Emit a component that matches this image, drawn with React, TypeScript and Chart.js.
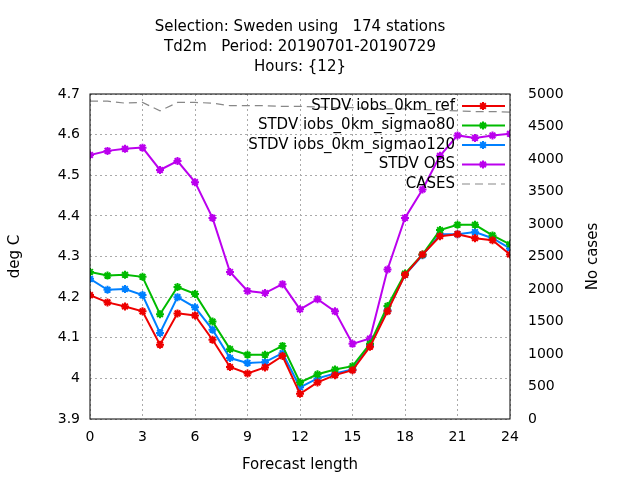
import React, { useEffect, useRef } from 'react';
import { Chart, registerables } from 'chart.js';

Chart.register(...registerables);

const hours = Array.from({ length: 25 }, (_, i) => i);
const titleLines = ['Selection: Sweden using   174 stations', 'Td2m   Period: 20190701-20190729', 'Hours: {12}'];

const refVals = [4.205, 4.187, 4.177, 4.165, 4.083, 4.16, 4.155, 4.095, 4.028, 4.012, 4.027, 4.055, 3.962, 3.99, 4.008, 4.02, 4.078, 4.165, 4.255, 4.305, 4.35, 4.355, 4.345, 4.34, 4.305];
const sig80Vals = [4.262, 4.253, 4.255, 4.25, 4.158, 4.225, 4.208, 4.14, 4.072, 4.058, 4.058, 4.08, 3.99, 4.01, 4.022, 4.03, 4.085, 4.178, 4.258, 4.305, 4.365, 4.378, 4.378, 4.352, 4.33];
const sig120Vals = [4.245, 4.218, 4.22, 4.205, 4.112, 4.2, 4.175, 4.12, 4.05, 4.038, 4.04, 4.062, 3.978, 4.0, 4.012, 4.022, 4.082, 4.168, 4.255, 4.303, 4.355, 4.355, 4.36, 4.345, 4.32];
const obsVals = [4.55, 4.56, 4.565, 4.568, 4.513, 4.535, 4.483, 4.395, 4.262, 4.215, 4.21, 4.232, 4.17, 4.195, 4.165, 4.085, 4.098, 4.268, 4.395, 4.465, 4.548, 4.598, 4.592, 4.598, 4.602];
const casesVals = [4890, 4890, 4860, 4870, 4740, 4870, 4870, 4860, 4820, 4820, 4820, 4810, 4810, 4800, 4790, 4790, 4780, 4770, 4770, 4760, 4750, 4740, 4730, 4730, 4720];

const FONT = 'DejaVu Sans';

const overlay = {
  id: 'overlay',
  afterDraw(chart: any) {
    const ctx = chart.ctx;
    const area = chart.chartArea;
    ctx.save();
    ctx.fillStyle = '#000';
    ctx.font = `15px "${FONT}"`;
    ctx.textAlign = 'center';
    ctx.textBaseline = 'middle';
    titleLines.forEach((t, i) => ctx.fillText(t, 300, 27 + i * 20));
    // axis titles
    ctx.fillText('Forecast length', (area.left + area.right) / 2, 465);
    ctx.save();
    ctx.translate(15, (area.top + area.bottom) / 2);
    ctx.rotate(-Math.PI / 2);
    ctx.fillText('deg C', 0, 0);
    ctx.restore();
    ctx.save();
    ctx.translate(593, (area.top + area.bottom) / 2);
    ctx.rotate(-Math.PI / 2);
    ctx.fillText('No cases', 0, 0);
    ctx.restore();
    // border
    ctx.strokeStyle = '#000';
    ctx.lineWidth = 1;
    ctx.strokeRect(area.left, area.top, area.right - area.left, area.bottom - area.top);
    // legend
    ctx.textAlign = 'right';
    chart.data.datasets.forEach((ds: any, i: number) => {
      const y = 106 + i * 19.5;
      ctx.fillStyle = '#000';
      ctx.fillText(ds.label, 455, y);
      ctx.strokeStyle = ds.borderColor;
      ctx.lineWidth = ds.borderWidth;
      ctx.setLineDash(ds.borderDash || []);
      ctx.beginPath();
      ctx.moveTo(462, y);
      ctx.lineTo(505, y);
      ctx.stroke();
      ctx.setLineDash([]);
      if (ds.pointRadius > 0) {
        ctx.lineWidth = 2;
        const r = 4;
        ctx.beginPath();
        for (let k = 0; k < 4; k++) {
          const a = (k * Math.PI) / 4;
          ctx.moveTo(483 - r * Math.cos(a), y - r * Math.sin(a));
          ctx.lineTo(483 + r * Math.cos(a), y + r * Math.sin(a));
        }
        ctx.stroke();
      }
    });
    ctx.restore();
  },
};

const grid = { color: '#aaa', lineWidth: 1, drawTicks: false };
const border = { display: false, dash: [2, 3] };

export default function App() {
  const ref = useRef<HTMLCanvasElement | null>(null);

  useEffect(() => {
    if (!ref.current) return;
    const line = (label: string, data: number[], color: string) => ({
      label, data, borderColor: color, backgroundColor: color, borderWidth: 2,
      pointStyle: 'star', pointRadius: 4, pointBorderWidth: 2, yAxisID: 'y',
    });
    const chart = new Chart(ref.current, {
      type: 'line',
      data: {
        labels: hours,
        datasets: [
          line('STDV iobs_0km_ref', refVals, '#ee0000'),
          line('STDV iobs_0km_sigmao80', sig80Vals, '#00bb00'),
          line('STDV iobs_0km_sigmao120', sig120Vals, '#0080ff'),
          line('STDV OBS', obsVals, '#bb00ee'),
          {
            label: 'CASES', data: casesVals, borderColor: '#888', borderWidth: 1.2,
            borderDash: [8, 5], pointRadius: 0, yAxisID: 'y2',
          } as any,
        ],
      },
      options: {
        responsive: false,
        animation: false,
        layout: { padding: { top: 94, right: 0, bottom: 0, left: 0 } },
        plugins: { legend: { display: false }, title: { display: false }, tooltip: { enabled: false } },
        scales: {
          x: {
            type: 'linear', min: 0, max: 24,
            afterFit: (s: any) => { s.height = 61; },
            afterBuildTicks: (s: any) => { s.ticks = [0, 3, 6, 9, 12, 15, 18, 21, 24].map((v) => ({ value: v })); },
            ticks: { color: '#000', font: { family: FONT, size: 14 }, padding: 10 },
            grid, border,
          },
          y: {
            position: 'left', min: 3.9, max: 4.7,
            afterFit: (s: any) => { s.width = 90; },
            ticks: { stepSize: 0.1, color: '#000', font: { family: FONT, size: 14 }, padding: 10, callback: (v: any) => String(Math.round(Number(v) * 10) / 10) },
            grid, border,
          },
          y2: {
            position: 'right', min: 0, max: 5000,
            afterFit: (s: any) => { s.width = 130; },
            ticks: { stepSize: 500, color: '#000', font: { family: FONT, size: 14 }, padding: 10, callback: (v: any) => String(v) },
            grid: { display: false },
            border: { display: false },
          },
        },
      },
      plugins: [overlay],
    } as any);
    return () => chart.destroy();
  }, []);

  return (
    <div style={{ position: 'absolute', left: 0, top: 0, background: '#fff' }}>
      <canvas ref={ref} width={640} height={480} />
    </div>
  );
}
